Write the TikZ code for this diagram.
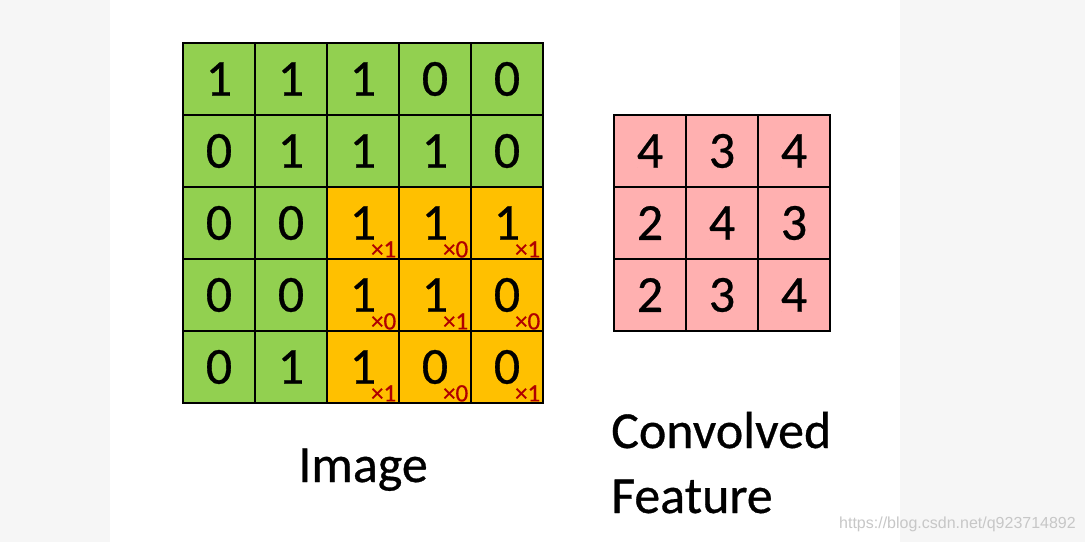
\documentclass[tikz,border=0pt]{standalone}
\usepackage{fontspec}
\setmainfont[FakeBold=0.6]{Carlito}
\newfontfamily\wmfont{Liberation Sans}
\usetikzlibrary{calc}
\definecolor{cgreen}{HTML}{92D050}
\definecolor{corange}{HTML}{FFC000}
\definecolor{cpink}{HTML}{FFB0B0}
\definecolor{cred}{HTML}{B00000}
\definecolor{bgside}{HTML}{F6F6F6}
\begin{document}
\begin{tikzpicture}[x=1bp,y=-1bp,
  cell/.style={draw=black, line width=2.8bp, minimum size=72bp, inner sep=0pt,
    font=\fontsize{52bp}{60bp}\selectfont},
  mult/.style={anchor=base east, inner sep=0pt, text=cred,
    font=\fontsize{25bp}{28bp}\selectfont},
  label/.style={inner sep=0pt, font=\fontsize{52bp}{65bp}\selectfont}]
\useasboundingbox (0,0) rectangle (1085,542);
\fill[bgside] (0,0) rectangle (110,542);
\fill[bgside] (900,0) rectangle (1085,542);
% image grid
\foreach \row [count=\r] in {{1,1,1,0,0},{0,1,1,1,0},{0,0,1,1,1},{0,0,1,1,0},{0,1,1,0,0}}{
  \foreach \v [count=\c] in \row {
    \pgfmathtruncatemacro\isor{(\r>2)&&(\c>2)}
    \ifnum\isor=1 \def\fc{corange}\else\def\fc{cgreen}\fi
    \node[cell, fill=\fc] (I-\r-\c) at ({219+72*(\c-1)}, {79+72*(\r-1)}) {\v};
  }
}
% multipliers
\foreach \w [count=\k] in {1,0,1,0,1,0,1,0,1}{
  \pgfmathtruncatemacro\rr{3+int((\k-1)/3)}
  \pgfmathtruncatemacro\cc{3+mod(\k-1,3)}
  \node[mult] (M-\rr-\cc) at ($(I-\rr-\cc.south east)+(-4,-3)$) {×\w};
}
% convolved feature grid
\foreach \row [count=\r] in {{4,3,4},{2,4,3},{2,3,4}}{
  \foreach \v [count=\c] in \row {
    \node[cell, fill=cpink] (F-\r-\c) at ({650+72*(\c-1)}, {151+72*(\r-1)}) {\v};
  }
}
\node[label, anchor=base] (imglabel) at (363,482) {Image};
\node[label, anchor=base west] (convlabel) at (611,448) {Convolved};
\node[label, anchor=base west] (featlabel) at (611,513) {Feature};
\node[anchor=base east, inner sep=0pt, text=black!22,
  font=\wmfont\fontsize{16bp}{18bp}\selectfont] (wm) at (1076,528) {https://blog.csdn.net/q923714892};
\end{tikzpicture}
\end{document}
